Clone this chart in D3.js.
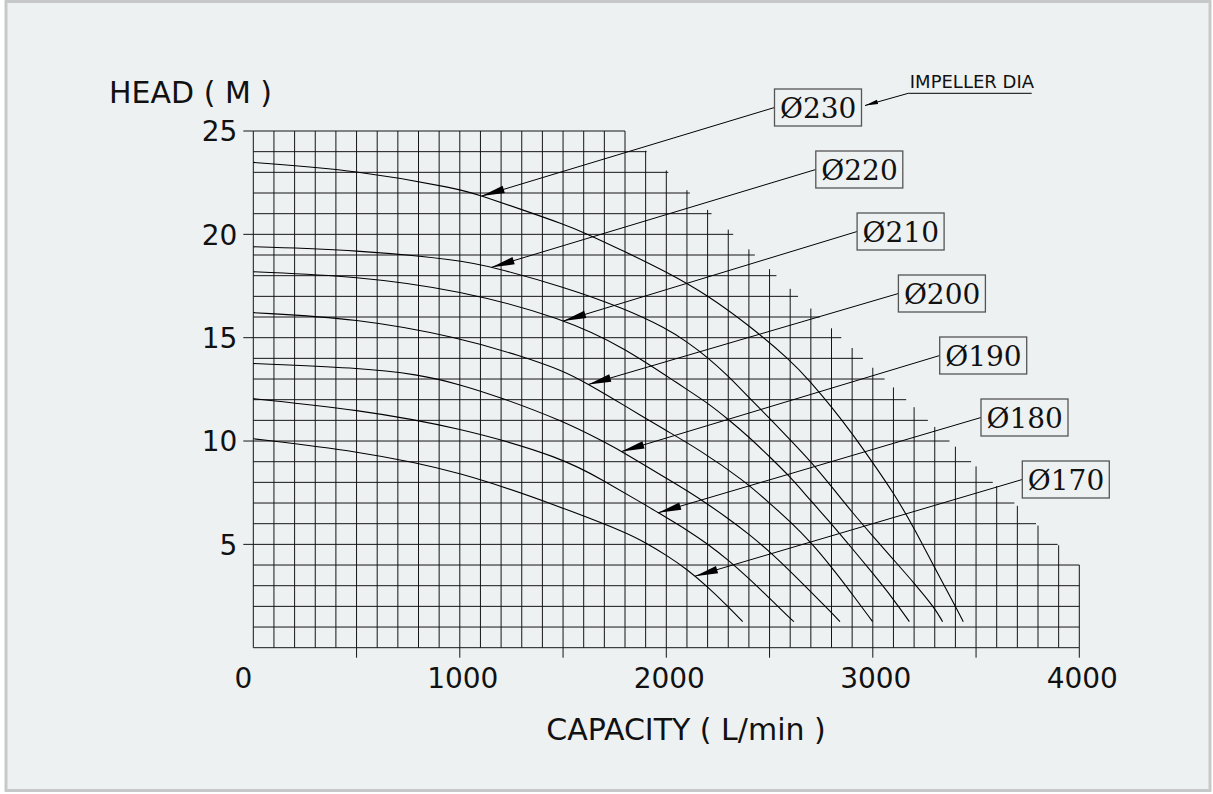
<!DOCTYPE html>
<html>
<head>
<meta charset="utf-8">
<script src="https://cdn.jsdelivr.net/npm/d3@7"></script>
<style>
  body { margin: 0; background: #fff; }
  svg { display: block; }
</style>
</head>
<body>
<div id="chart"></div>
<script>
const diameters = [230, 220, 210, 200, 190, 180, 170]

const curve230 = [[0,23.48],[500,23.11],[1000,22.2],[1100,21.88],[1300,21.2],[1500,20.5],[1600,20.1],[1800,19.16],[2000,18.19],[2200,17.06],[2400,15.6],[2600,13.92],[2700,12.85],[2800,11.66],[2900,10.37],[3000,8.95],[3100,7.5],[3200,5.8],[3300,3.85],[3400,2.0],[3438,1.26]]
const curve220 = [[0,19.4],[500,19.24],[1000,18.76],[1154,18.43],[1500,17.47],[1800,16.4],[2000,15.45],[2100,14.8],[2200,14.05],[2300,13.15],[2400,12.1],[2500,11.1],[2600,10.05],[2700,9.0],[2800,7.8],[2900,6.55],[3000,5.4],[3100,4.26],[3200,3.13],[3300,1.92],[3338,1.26]]
const curve210 = [[0,18.19],[500,17.98],[1000,17.3],[1501,15.94],[1800,14.5],[2066,12.71],[2200,11.85],[2300,11.05],[2400,10.2],[2500,9.24],[2600,8.27],[2700,7.1],[2800,6.0],[2900,4.8],[3000,3.6],[3100,2.35],[3177,1.26]]
const curve200 = [[0,16.21],[500,15.94],[1000,15.0],[1300,14.1],[1500,13.4],[1622,12.75],[1800,11.7],[2000,10.5],[2163,9.56],[2373,8.11],[2500,7.0],[2600,6.1],[2700,5.1],[2800,3.9],[2900,2.6],[2999,1.26]]
const curve190 = [[0,13.75],[500,13.55],[800,13.23],[1000,12.74],[1200,12.1],[1500,10.97],[1700,9.95],[1783,9.5],[1900,8.8],[2000,8.2],[2100,7.6],[2200,6.95],[2300,6.25],[2400,5.5],[2500,4.65],[2600,3.7],[2700,2.7],[2800,1.7],[2841,1.26]]
const curve180 = [[0,12.05],[500,11.53],[1000,10.65],[1500,9.19],[1700,8.06],[1900,6.9],[1961,6.53],[2000,6.3],[2100,5.7],[2200,5.02],[2300,4.24],[2400,3.35],[2500,2.39],[2600,1.42],[2618,1.26]]
const curve170 = [[0,10.11],[500,9.52],[1000,8.55],[1500,6.77],[1800,5.6],[1900,5.08],[2000,4.48],[2100,3.8],[2200,2.95],[2300,1.98],[2370,1.26]]

const curves = [curve230, curve220, curve210, curve200, curve190, curve180, curve170]

// capacity where each label arrow touches its curve
const arrowFlow = [1106, 1154, 1501, 1622, 1783, 1961, 2139]

const xTicks = d3.range(500, 4001, 500)
const xLabels = [0, 1000, 2000, 3000, 4000]
const yLabels = [5, 10, 15, 20, 25]

// stepped outline of the grid: full height up to 1800, then falls to 4 m at 4000
const gridCorner = [1800, 25]
const gridEnd = [4000, 4]

const dim = { outer_width: 1213, outer_height: 794, ml: 253.3, mt: 131, width: 826, height: 516.7 }

function create(cont) {
  cont = d3.select(cont)
  const svg = cont.append("svg").attr("class", "chart")
    .attr("width", dim.outer_width).attr("height", dim.outer_height)

  svg.append("rect")
    .attr("x", 6).attr("y", 1.5).attr("width", 1204).attr("height", 789)
    .attr("fill", "#eef1f2").attr("stroke", "#c6c8ca").attr("stroke-width", 3)

  svg.append("g").attr("class", "main_g")
    .attr("transform", "translate(" + dim.ml + "," + dim.mt + ")")
}

function draw(cont) {
  cont = d3.select(cont)
  const svg = cont.select("svg.chart"),
    main_g = svg.select("g.main_g")

  const d3x = d3.scaleLinear().domain([0, 4000]).range([0, dim.width])
  const d3y = d3.scaleLinear().domain([0, 25]).range([dim.height, 0])
  const env = d3.scaleLinear().domain([gridCorner[0], gridEnd[0]]).range([gridCorner[1], gridEnd[1]])

  drawGrid()
  drawAxis()
  drawCurves()

  function drawGrid() {
    const g = main_g.append("g").attr("class", "grid")
      .attr("stroke", "#151515").attr("stroke-width", 1)

    d3.range(0, 4001, 100).forEach(q => {
      const top = q <= gridCorner[0] ? 25 : env(q)
      g.append("line")
        .attr("x1", d3x(q)).attr("x2", d3x(q))
        .attr("y1", d3y(0)).attr("y2", d3y(top))
    })

    d3.range(0, 26, 1).forEach(h => {
      const right = Math.min(gridEnd[0], env.invert(h))
      g.append("line")
        .attr("x1", d3x(0)).attr("x2", d3x(right))
        .attr("y1", d3y(h)).attr("y2", d3y(h))
    })
  }

  function drawAxis() {
    const axis_g = main_g.append("g").attr("class", "axis")
      .style("font-family", "'DejaVu Sans', sans-serif").style("font-size", "28px")

    yLabels.forEach(h => {
      axis_g.append("line")
        .attr("x1", -10).attr("x2", 0).attr("y1", d3y(h)).attr("y2", d3y(h))
        .attr("stroke", "#151515")
      axis_g.append("text")
        .attr("x", -16).attr("y", d3y(h) + 10.2)
        .attr("text-anchor", "end").attr("fill", "#111")
        .text(h)
    })

    xTicks.forEach(q => {
      axis_g.append("line")
        .attr("x1", d3x(q)).attr("x2", d3x(q)).attr("y1", dim.height).attr("y2", dim.height + 10)
        .attr("stroke", "#151515")
    })

    xLabels.forEach(q => {
      axis_g.append("text")
        .attr("x", d3x(q) + (q === 0 ? -10 : 3)).attr("y", dim.height + 40.6)
        .attr("text-anchor", "middle").attr("fill", "#111")
        .text(q)
    })

    svg.append("text")
      .attr("x", 109).attr("y", 102.7)
      .style("font-family", "'DejaVu Sans', sans-serif").style("font-size", "30px")
      .attr("fill", "#111")
      .text("HEAD ( M )")

    svg.append("text")
      .attr("x", 686).attr("y", 740)
      .attr("text-anchor", "middle")
      .style("font-family", "'DejaVu Sans', sans-serif").style("font-size", "30px")
      .attr("fill", "#111")
      .text("CAPACITY ( L/min )")
  }

  function arrowHead(g, tip, to, len, half) {
    const dx = to[0] - tip[0], dy = to[1] - tip[1], l = Math.hypot(dx, dy)
    const ux = dx / l, uy = dy / l, nx = -uy, ny = ux
    const bx = tip[0] + ux * len, by = tip[1] + uy * len
    g.append("path")
      .attr("d", "M" + tip[0] + "," + tip[1] +
        "L" + (bx + nx * half) + "," + (by + ny * half) +
        "L" + (bx - nx * half) + "," + (by - ny * half) + "Z")
      .attr("fill", "#000")
  }

  function pointAtX(node, px) {
    let lo = 0, hi = node.getTotalLength()
    for (let i = 0; i < 40; i++) {
      const mid = (lo + hi) / 2
      if (node.getPointAtLength(mid).x < px) lo = mid; else hi = mid
    }
    return node.getPointAtLength(lo)
  }

  function drawCurves() {
    const line = d3.line()
      .curve(d3.curveBasis)
      .x(d => d3x(d[0]))
      .y(d => d3y(d[1]))

    const lab_g = main_g.append("g").attr("class", "labels")
    const box = { x0: 521.2, y0: -42, dx: 41.3, dy: 62, w: 87, h: 37 }

    curves.forEach((data, i) => {
      const path = main_g.append("path")
        .attr("class", "line")
        .style("fill", "none")
        .style("stroke-width", 1.1)
        .style("stroke", "#000")
        .attr("d", line(data))

      const bx = box.x0 + box.dx * i, by = box.y0 + box.dy * i
      const p = pointAtX(path.node(), d3x(arrowFlow[i]))
      const tip = [p.x, p.y], end = [bx, by + box.h / 2]

      lab_g.append("line")
        .attr("x1", tip[0]).attr("y1", tip[1]).attr("x2", end[0]).attr("y2", end[1])
        .attr("stroke", "#000").attr("stroke-width", 1)
      arrowHead(lab_g, tip, end, 23, 3.8)

      lab_g.append("rect")
        .attr("x", bx).attr("y", by).attr("width", box.w).attr("height", box.h)
        .attr("fill", "none").attr("stroke", "#555").attr("stroke-width", 1.3)
      lab_g.append("text")
        .attr("x", bx + 5.5).attr("y", by + 29.3)
        .style("font-family", "'DejaVu Serif', serif").style("font-size", "28px")
        .attr("fill", "#111")
        .text("\u00D8" + diameters[i])

      if (i === 0) {
        const tipI = [bx + box.w + 3.5, by + box.h / 2 - 2]
        const startI = [655, -37.7]
        lab_g.append("line")
          .attr("x1", tipI[0]).attr("y1", tipI[1]).attr("x2", startI[0]).attr("y2", startI[1])
          .attr("stroke", "#000").attr("stroke-width", 1)
        arrowHead(lab_g, tipI, startI, 13, 2.2)
        lab_g.append("line")
          .attr("x1", startI[0]).attr("y1", startI[1]).attr("x2", startI[0] + 123.4).attr("y2", startI[1])
          .attr("stroke", "#000").attr("stroke-width", 1)
        lab_g.append("text")
          .attr("x", startI[0] + 1.5).attr("y", startI[1] - 5)
          .style("font-family", "'DejaVu Sans', sans-serif").style("font-size", "18px")
          .attr("fill", "#111")
          .text("IMPELLER DIA")
      }
    })
  }
}

create("#chart")
draw("#chart")
</script>
</body>
</html>
